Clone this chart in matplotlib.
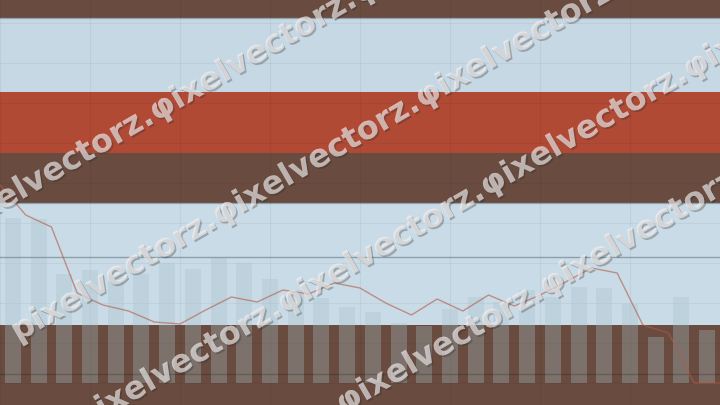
import matplotlib
matplotlib.use('Agg')
import matplotlib.pyplot as plt
import matplotlib.patheffects as pe
import numpy as np

# bar heights (28 bars) and line values (29 points, on the bar edges)
bar_values = [41.25, 41, 27.25, 28.25, 27, 27.25, 30, 28.5, 31.25, 30,
              26, 23.25, 21.25, 19, 17.75, 15, 14.25, 18.5, 21.5, 20.25,
              23.25, 21.5, 24, 23.75, 19.75, 11.5, 21.5, 13.25]
line_values = [49.5, 42, 39, 22.5, 19.5, 18, 15.25, 14.75, 18.25, 21.5,
               20.25, 23.25, 22.25, 25, 23.75, 20, 17, 21, 18, 22,
               19.25, 22, 25.25, 28.75, 27.5, 14.5, 12.5, 0, 0]

# background stripes
band_bottoms = [72.75, 57.5, 14.5]
band_tops = [91.25, 72.75, 45]
band_colors = ['#c5d8e4', '#b04a35', '#c9dbe6']
edge_lines = [91.25, 45]
ref_lines = [31.5, 2.25]

watermark = 'pixelvectorz.φixelvectorz.φixelvectorz.φixelvectorz.φixelvectorz.'

fig = plt.figure(figsize=(7.2, 4.05), dpi=100)
ax = fig.add_axes([0, 0, 1, 1])
ax.set_facecolor('#694c3f')

for lo, hi, c in zip(band_bottoms, band_tops, band_colors):
    ax.axhspan(lo, hi, color=c, lw=0, zorder=0.5)
for y in edge_lines:
    ax.axhline(y, color='#8fa4b0', lw=0.9, zorder=0.6)

x_bars = np.arange(len(bar_values)) + 0.5
ax.bar(x_bars, bar_values, width=0.62, color='#a6c2cb', alpha=0.32, zorder=1.8)

ax.axhline(ref_lines[0], color='#7d919c', lw=1, alpha=0.8, zorder=2)
ax.axhline(ref_lines[1], color='black', lw=1, alpha=0.18, zorder=2)

ax.plot(np.arange(len(line_values)), line_values, color='#b45a46', alpha=0.6, lw=1, zorder=3)

ax.set_xlim(0, 28)
ax.set_ylim(-5.5, 95.75)
ax.set_xticks(np.arange(0, 28.1, 3.5))
ax.set_yticks(np.arange(0, 100, 10))
ax.tick_params(length=0, labelbottom=False, labelleft=False)
for s in ax.spines.values():
    s.set_visible(False)
ax.set_axisbelow('line')
ax.grid(color='black', alpha=0.045, lw=0.8)

# diagonal watermark rows (start point in pixels from top-left)
starts = [(-45, 238), (18, 342), (-120, 478 + 120 * 0.577), (-61, 612 + 61 * 0.577)]
shadow = [pe.withSimplePatchShadow(offset=(1.2, -1.2), shadow_rgbFace='#2a2a2a', alpha=0.3), pe.Normal()]
for sx, sy in starts:
    fig.text(sx / 720, 1 - sy / 405, watermark, rotation=30, rotation_mode='anchor',
             ha='left', va='baseline', fontsize=23, fontweight='bold',
             color='#f2eeee', alpha=0.42, path_effects=shadow, zorder=10)

fig.savefig('out.png', dpi=100)
